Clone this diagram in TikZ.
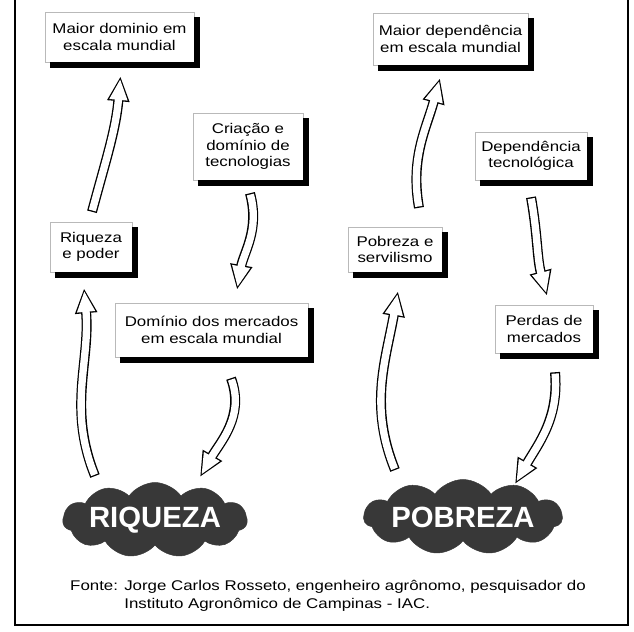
\documentclass[tikz,border=0pt]{standalone}
\usepackage{fontspec}
\setmainfont[FakeStretch=1.2]{Liberation Sans}
\newfontfamily\nuvemfont{Liberation Sans}
\usetikzlibrary{arrows.meta}
\usetikzlibrary{shapes.symbols}
\usetikzlibrary{calc}

\tikzset{
	caixa/.style={draw=gray!55, line width=0.4pt, fill=white, align=center, inner sep=2pt,
		font=\fontsize{12}{14}\selectfont},
	sombra/.style={draw=black, line width=0.17cm},
	nuvem/.style={cloud, cloud puffs=11, cloud puff arc=110, cloud ignores aspect,
		fill=black!78, draw=black!78, text=white, inner sep=0pt,
		font=\nuvemfont\bfseries\fontsize{25}{25}\selectfont},
	seta/.style={draw=black, line width=0.3cm, -{Triangle[length=0.75cm, width=0.62cm]},
		postaction={draw=white, line width=0.22cm, shorten >=0.08cm, shorten <=0.04cm,
			-{Triangle[length=0.63cm, width=0.5cm]}}}
}

\begin{document}
\begin{tikzpicture}[x=0.03cm, y=0.03cm]

	\useasboundingbox (0,0) rectangle (634,631);
	\draw[line width=1.2pt] (15,631) -- (15,6) -- (628,6) -- (628,631);

	% lado da riqueza
	\node[caixa, minimum width=4.47cm, minimum height=1.5cm] (maiordom) at (119.5,594) {Maior dominio em\\escala mundial};
	\node[caixa, minimum width=3.3cm, minimum height=2.01cm] (criacao) at (248,484.5) {Criação e\\domínio de\\tecnologias};
	\node[caixa, minimum width=2.46cm, minimum height=1.5cm] (riqpoder) at (91,384) {Riqueza\\e poder};
	\node[caixa, minimum width=5.79cm, minimum height=1.62cm] (dommerc) at (211.5,301) {Domínio dos mercados\\em escala mundial};
	\node[nuvem, minimum width=5.25cm, minimum height=2.25cm] (riqueza) at (155,111) {RIQUEZA};

	% lado da pobreza
	\node[caixa, minimum width=4.65cm, minimum height=1.56cm] (maiordep) at (450.5,592) {Maior dependência\\em escala mundial};
	\node[caixa, minimum width=3.36cm, minimum height=1.44cm] (deptec) at (531,475) {Dependência\\tecnológica};
	\node[caixa, minimum width=2.82cm, minimum height=1.35cm] (pobserv) at (395,381.5) {Pobreza e\\servilismo};
	\node[caixa, minimum width=2.94cm, minimum height=1.44cm] (perdas) at (544,302) {Perdas de\\mercados};
	\node[nuvem, minimum width=5.1cm, minimum height=2.25cm] (pobreza) at (463,114) {POBREZA};

	% sombras das caixas
	\draw[sombra] ($(maiordom.south west)+(5,-3)$) -- ($(maiordom.south east)+(3,-3)$) -- ($(maiordom.north east)+(3,-5)$);
	\draw[sombra] ($(criacao.south west)+(5,-3)$) -- ($(criacao.south east)+(3,-3)$) -- ($(criacao.north east)+(3,-5)$);
	\draw[sombra] ($(riqpoder.south west)+(5,-3)$) -- ($(riqpoder.south east)+(3,-3)$) -- ($(riqpoder.north east)+(3,-5)$);
	\draw[sombra] ($(dommerc.south west)+(5,-3)$) -- ($(dommerc.south east)+(3,-3)$) -- ($(dommerc.north east)+(3,-5)$);
	\draw[sombra] ($(maiordep.south west)+(5,-3)$) -- ($(maiordep.south east)+(3,-3)$) -- ($(maiordep.north east)+(3,-5)$);
	\draw[sombra] ($(deptec.south west)+(5,-3)$) -- ($(deptec.south east)+(3,-3)$) -- ($(deptec.north east)+(3,-5)$);
	\draw[sombra] ($(pobserv.south west)+(5,-3)$) -- ($(pobserv.south east)+(3,-3)$) -- ($(pobserv.north east)+(3,-5)$);
	\draw[sombra] ($(perdas.south west)+(5,-3)$) -- ($(perdas.south east)+(3,-3)$) -- ($(perdas.north east)+(3,-5)$);

	\draw[seta] ($(riqpoder.north)+(1,10)$) to[out=75, in=-95] ($(maiordom.south)+(1,-14)$);
	\draw[seta] ($(criacao.south)+(2,-13)$) to[out=-75, in=80] ($(dommerc.north)+(25.5,13)$);
	\draw[seta] ($(riqueza.center)+(-60,44)$) to[out=112, in=-85] ($(riqpoder.south)+(-7,-16)$);
	\draw[seta] ($(dommerc.south)+(19.5,-21)$) to[out=-70, in=60] ($(riqueza.center)+(45,43)$);

	\draw[seta] ($(pobserv.north)+(24,19)$) to[out=100, in=-105] ($(maiordep.south)+(-10.5,-13)$);
	\draw[seta] ($(deptec.south)+(0,-17)$) to[out=-80, in=105] ($(perdas.north)+(3,9)$);
	\draw[seta] ($(pobreza.center)+(-68,47)$) to[out=112, in=-100] ($(pobserv.south)+(3,-19)$);
	\draw[seta] ($(perdas.south)+(11,-19)$) to[out=-85, in=60] ($(pobreza.center)+(52,33)$);

	\node[anchor=west, inner sep=0pt, font=\fontsize{12}{15.3}\selectfont] (fonte) at (70,35)
		{\begin{tabular}{@{}l@{ }l@{}}Fonte: & Jorge Carlos Rosseto, engenheiro agrônomo, pesquisador do\\ & Instituto Agronômico de Campinas - IAC.\end{tabular}};

\end{tikzpicture}
\end{document}
